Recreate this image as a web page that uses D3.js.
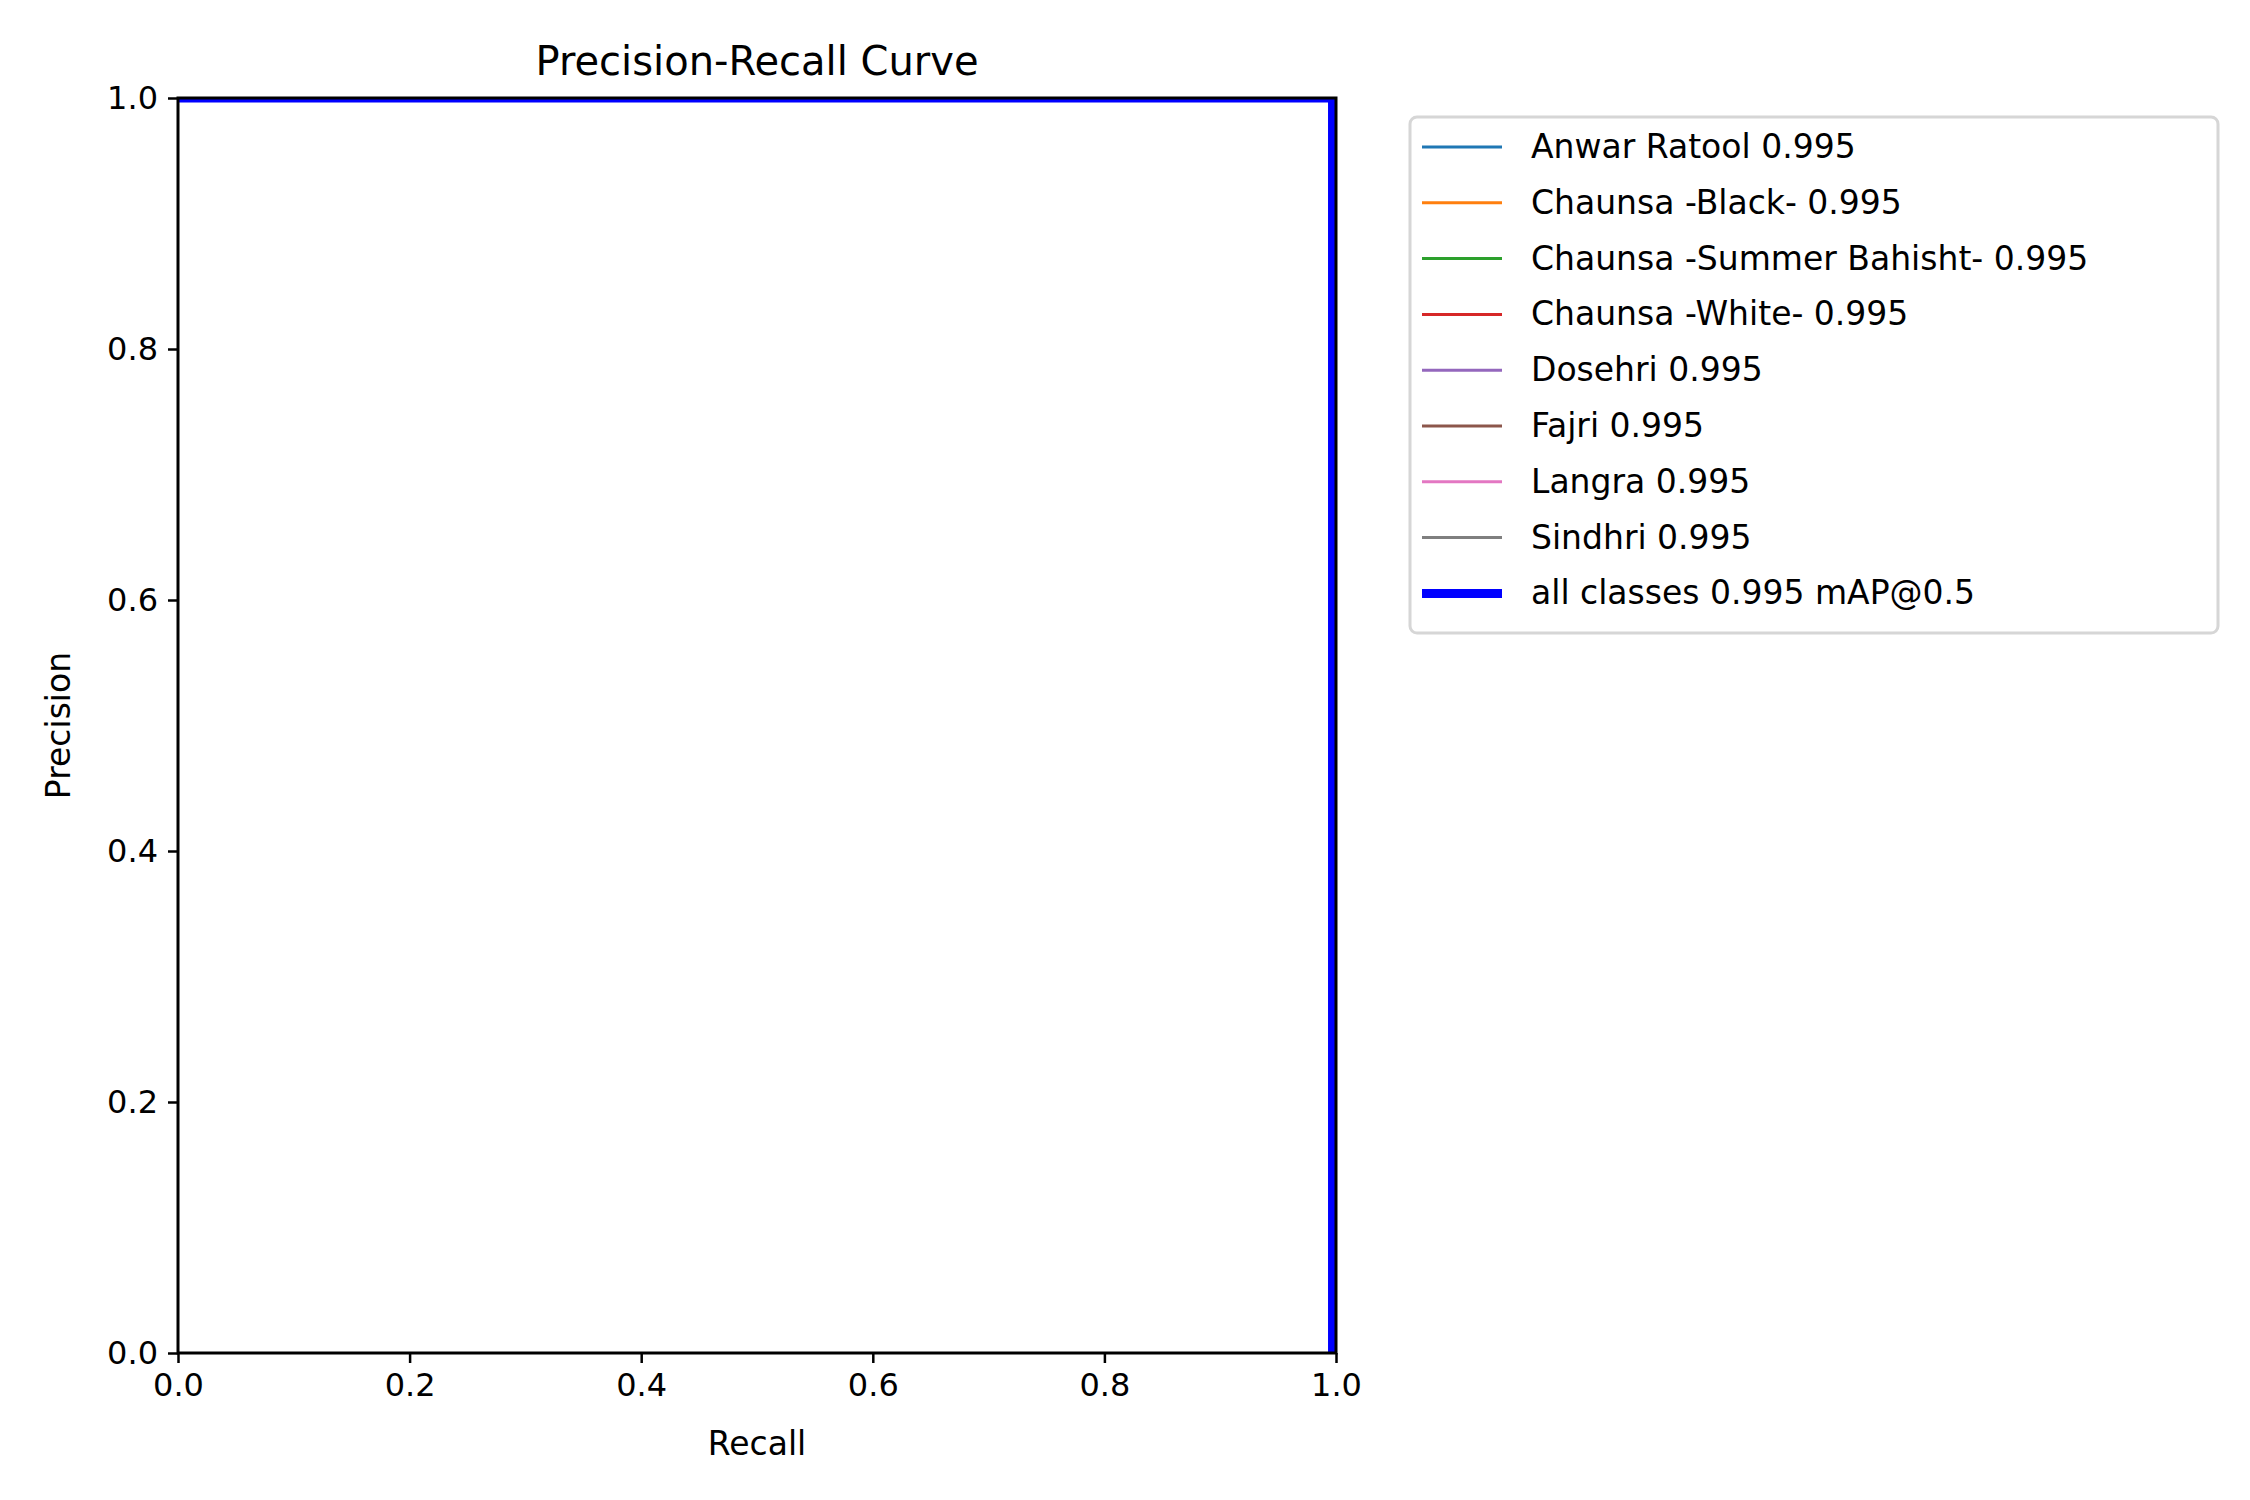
<!DOCTYPE html>
<html><head><meta charset="utf-8"><script src="https://cdn.jsdelivr.net/npm/d3@7"></script>
<style>body{margin:0;background:#fff}text{font-family:"DejaVu Sans";fill:#000}</style></head>
<body><svg id="c" width="2250" height="1500"></svg>
<script>
const classNames=["Anwar Ratool","Chaunsa -Black-","Chaunsa -Summer Bahisht-","Chaunsa -White-","Dosehri","Fajri","Langra","Sindhri"];
const classAP=[0.995,0.995,0.995,0.995,0.995,0.995,0.995,0.995];
const colors=["#1f77b4","#ff7f0e","#2ca02c","#d62728","#9467bd","#8c564b","#e377c2","#7f7f7f"];
const recall=[0,0.997,0.997];
const precision=[1,1,0];
const mAP=0.995;
const ticks=[0,0.2,0.4,0.6,0.8,1.0];

const svg=d3.select("#c");
const L=178,R=1336,T=98,B=1353;
const x=d3.scaleLinear().domain([0,1]).range([L,R]);
const y=d3.scaleLinear().domain([0,1]).range([B,T]);
svg.append("clipPath").attr("id","cp").append("rect").attr("x",L).attr("y",T).attr("width",R-L).attr("height",B-T);
const pts=recall.map((r,i)=>[r,precision[i]]);
const line=d3.line().x(d=>x(d[0])).y(d=>y(d[1]));
const g=svg.append("g").attr("clip-path","url(#cp)");
classNames.forEach((n,i)=>g.append("path").attr("d",line(pts)).attr("fill","none").attr("stroke",colors[i]).attr("stroke-width",3));
g.append("path").attr("d",line(pts)).attr("fill","none").attr("stroke","#0000ff").attr("stroke-width",9);
svg.append("rect").attr("x",L).attr("y",T).attr("width",R-L).attr("height",B-T).attr("fill","none").attr("stroke","#000").attr("stroke-width",3);
const fmt=d3.format(".1f");
const xa=svg.append("g").attr("transform",`translate(0,${B})`).call(d3.axisBottom(x).tickValues(ticks).tickFormat(fmt).tickSize(10).tickPadding(10));
const ya=svg.append("g").attr("transform",`translate(${L},0)`).call(d3.axisLeft(y).tickValues(ticks).tickFormat(fmt).tickSize(10).tickPadding(10));
[xa,ya].forEach(a=>{a.select(".domain").remove();a.selectAll("line").attr("stroke","#000").attr("stroke-width",2.5);a.selectAll("text").style("font-family","DejaVu Sans").style("font-size","32px").attr("fill","#000");});
svg.append("text").attr("x",(L+R)/2).attr("y",1455).attr("text-anchor","middle").style("font-size","33px").text("Recall");
svg.append("text").attr("transform",`translate(70,${(T+B)/2}) rotate(-90)`).attr("text-anchor","middle").style("font-size","33px").text("Precision");
svg.append("text").attr("x",(L+R)/2).attr("y",75).attr("text-anchor","middle").style("font-size","40px").text("Precision-Recall Curve");
const lg=svg.append("g");
lg.append("rect").attr("x",1410).attr("y",117).attr("width",808).attr("height",516).attr("rx",7).attr("fill","#fff").attr("stroke","#d6d6d6").attr("stroke-width",3);
const items=classNames.map((n,i)=>({t:`${n} ${classAP[i].toFixed(3)}`,c:colors[i],w:3})).concat([{t:`all classes ${mAP.toFixed(3)} mAP@0.5`,c:"#0000ff",w:9}]);
items.forEach((d,i)=>{const yy=147+i*55.8;
lg.append("line").attr("x1",1422).attr("x2",1502).attr("y1",yy).attr("y2",yy).attr("stroke",d.c).attr("stroke-width",d.w);
lg.append("text").attr("x",1531).attr("y",yy+11).style("font-size","33px").text(d.t);});
</script></body></html>
